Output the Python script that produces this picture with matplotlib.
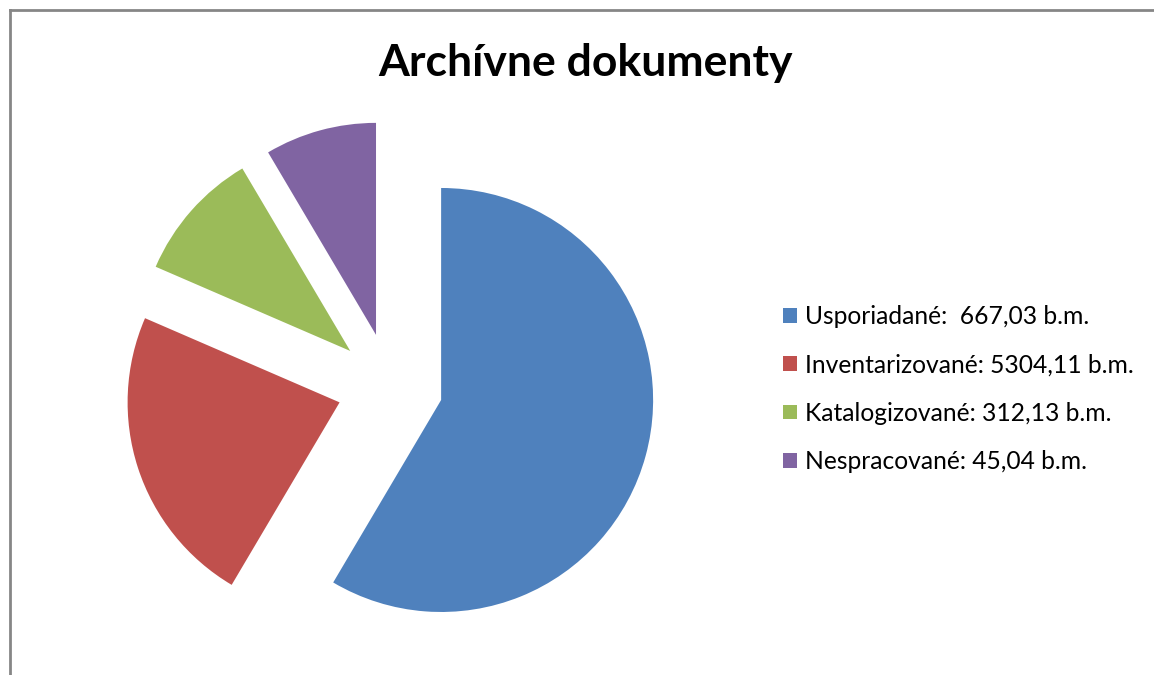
import matplotlib.pyplot as plt
from matplotlib.lines import Line2D

# slice shares (percent of the circle)
labels = ['Usporiadané:  667,03 b.m.',
          'Inventarizované: 5304,11 b.m.',
          'Katalogizované: 312,13 b.m.',
          'Nespracované: 45,04 b.m.']
shares = [58.5, 23.0, 10.0, 8.5]
colors = ['#4F81BD', '#C0504D', '#9BBB59', '#8064A2']

plt.rcParams['font.family'] = ['Lato', 'DejaVu Sans']

fig = plt.figure(figsize=(11.54, 6.75), dpi=100)

# pie centre at about (390, 386) px, radius ~212 px
W, H = 1154, 675
cx, cy, half = 390, 386, 300
ax = fig.add_axes([(cx - half) / W, (H - cy - half) / H, 2 * half / W, 2 * half / H])
wedges, _ = ax.pie(shares, colors=colors, startangle=90, counterclock=False,
                   explode=[0.25] * 4, radius=1.0,
                   wedgeprops=dict(linewidth=0))
lim = half / 212
ax.set_xlim(-lim, lim)
ax.set_ylim(-lim, lim)
ax.set_aspect('equal')
ax.axis('off')

fig.text(585 / W, 1 - 63 / H, 'Archívne dokumenty', ha='center', va='center',
         fontsize=32, fontweight='bold')

fig.legend(wedges, labels, loc='center left', bbox_to_anchor=(761 / W, 1 - 389 / H),
           frameon=False, fontsize=17.7, handlelength=0.55, handleheight=0.55,
           handletextpad=0.32, labelspacing=1.03)

# chart border (left and top visible)
fig.add_artist(Line2D([10 / W, 10 / W], [0, 1 - 10 / H], color='#868686', lw=2,
                      transform=fig.transFigure))
fig.add_artist(Line2D([10 / W, 1], [1 - 10 / H, 1 - 10 / H], color='#868686', lw=2,
                      transform=fig.transFigure))

fig.savefig('out.png', dpi=100)
